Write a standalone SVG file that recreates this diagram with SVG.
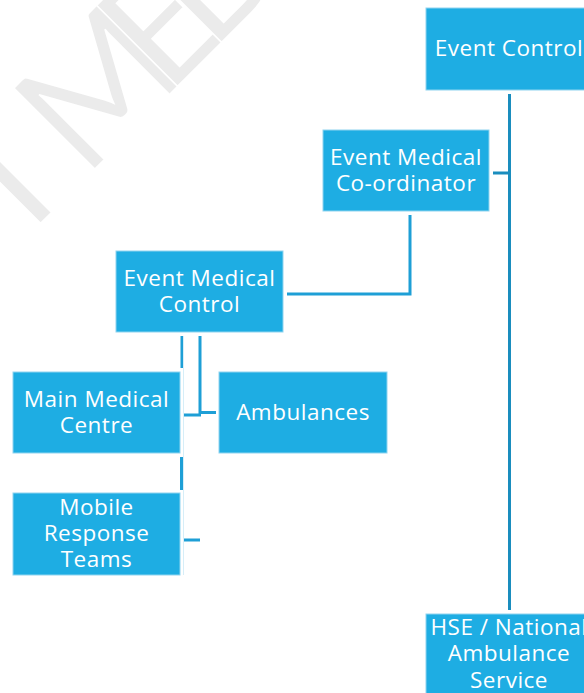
<svg xmlns="http://www.w3.org/2000/svg" width="584" height="693" viewBox="0 0 584 693">
<style>
.box{fill:#1EADE3;stroke:#8FD4EF;stroke-width:1}
.lbl{font-family:"Open Sans","Liberation Sans",sans-serif;font-size:22.5px;letter-spacing:0.5px;fill:#FFFFFF;text-anchor:middle}
.ln{fill:none;stroke:#1E9FD6;stroke-width:3}
.trunk{fill:none;stroke:#1A8DBE;stroke-width:3}
.wm{font-family:Lato,"Open Sans",sans-serif;font-size:160px;font-weight:400;fill:#EBEBEB;stroke:#FFFFFF;stroke-width:1.5}
</style>
<rect width="584" height="693" fill="#FFFFFF"/>
<g id="watermark" transform="translate(132,132) rotate(-45)">
<text class="wm"><tspan x="-144" y="0">I</tspan><tspan x="-67" y="0">M</tspan><tspan x="50" y="0">E</tspan><tspan x="112" y="0">D</tspan></text>
</g>
<g id="connectors">
<path class="trunk" d="M509.5 94 V610 M493 173 H509.5"/>
<path class="ln" d="M410 215 V294 H287"/>
<path class="ln" d="M182 336 V368 M181.5 457 V490 M184 415 H201 M184 540 H200 M200 336 V412.5 H216"/>
<path d="M183.5 336 V575" stroke="#D6EEF8" stroke-width="1" fill="none"/>
</g>
<g id="event-control">
<rect class="box" x="426" y="8" width="166" height="82"/>
<text class="lbl" x="509" y="56">Event Control</text>
</g>
<g id="event-medical-coordinator">
<rect class="box" x="323" y="130" width="166" height="81"/>
<text class="lbl" x="406" y="165">Event Medical</text>
<text class="lbl" x="406" y="191">Co-ordinator</text>
</g>
<g id="event-medical-control">
<rect class="box" x="116" y="251" width="167" height="81"/>
<text class="lbl" x="199.5" y="286">Event Medical</text>
<text class="lbl" x="199.5" y="312">Control</text>
</g>
<g id="main-medical-centre">
<rect class="box" x="13" y="372" width="167" height="81"/>
<text class="lbl" x="96.5" y="407">Main Medical</text>
<text class="lbl" x="96.5" y="433">Centre</text>
</g>
<g id="ambulances">
<rect class="box" x="219" y="372" width="168" height="81"/>
<text class="lbl" x="303" y="420">Ambulances</text>
</g>
<g id="mobile-response-teams">
<rect class="box" x="13" y="493" width="167" height="82"/>
<text class="lbl" x="96.5" y="515">Mobile</text>
<text class="lbl" x="96.5" y="541">Response</text>
<text class="lbl" x="96.5" y="567">Teams</text>
</g>
<g id="hse-national-ambulance-service">
<rect class="box" x="426" y="614" width="166" height="82"/>
<text class="lbl" x="509" y="635">HSE / National</text>
<text class="lbl" x="509" y="661">Ambulance</text>
<text class="lbl" x="509" y="688">Service</text>
</g>
</svg>
